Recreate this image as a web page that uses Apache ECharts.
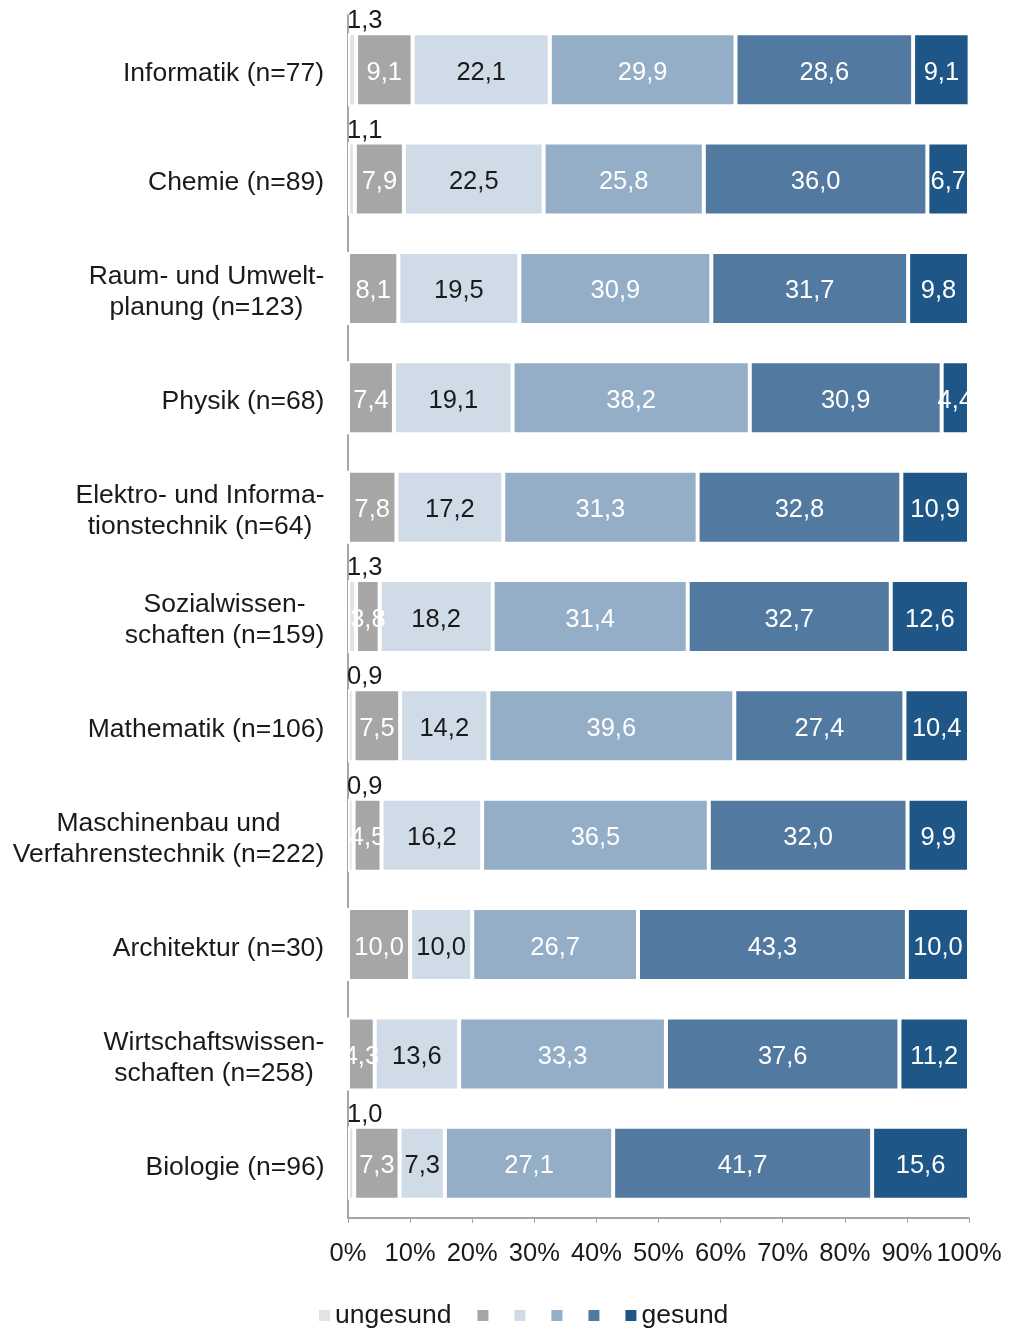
<!DOCTYPE html>
<html>
<head>
<meta charset="utf-8">
<script src="https://cdn.jsdelivr.net/npm/echarts@6/dist/echarts.min.js"></script>
<style>html,body{margin:0;padding:0;background:#fff}#c{width:1009px;height:1331px}</style>
</head>
<body>
<div id="c"></div>
<script>
const categories = [
  'Informatik (n=77)',
  'Chemie (n=89)',
  'Raum- und Umwelt-\nplanung (n=123)',
  'Physik (n=68)',
  'Elektro- und Informa-\ntionstechnik (n=64)',
  'Sozialwissen-\nschaften (n=159)',
  'Mathematik (n=106)',
  'Maschinenbau und\nVerfahrenstechnik (n=222)',
  'Architektur (n=30)',
  'Wirtschaftswissen-\nschaften (n=258)',
  'Biologie (n=96)'
];
const seriesNames = ['ungesund', 'Stufe 2', 'Stufe 3', 'Stufe 4', 'Stufe 5', 'gesund'];
const s1 = [1.3, 1.1, 0, 0, 0, 1.3, 0.9, 0.9, 0, 0, 1.0];
const s2 = [9.1, 7.9, 8.1, 7.4, 7.8, 3.8, 7.5, 4.5, 10.0, 4.3, 7.3];
const s3 = [22.1, 22.5, 19.5, 19.1, 17.2, 18.2, 14.2, 16.2, 10.0, 13.6, 7.3];
const s4 = [29.9, 25.8, 30.9, 38.2, 31.3, 31.4, 39.6, 36.5, 26.7, 33.3, 27.1];
const s5 = [28.6, 36.0, 31.7, 30.9, 32.8, 32.7, 27.4, 32.0, 43.3, 37.6, 41.7];
const s6 = [9.1, 6.7, 9.8, 4.4, 10.9, 12.6, 10.4, 9.9, 10.0, 11.2, 15.6];
const tickLabels = ['0%','10%','20%','30%','40%','50%','60%','70%','80%','90%','100%'];

const FONT = '"Liberation Sans", Arial, sans-serif';
const FS = 25.5;
const CFS = 26.5;
const colors = ['#e3e3e3', '#a6a6a6', '#d0dbe8', '#94aec8', '#527aa0', '#1e5687'];
const labelColors = ['#1a1a1a', '#ffffff', '#1a1a1a', '#ffffff', '#ffffff', '#ffffff'];
const allData = [s1, s2, s3, s4, s5, s6];

// measure label widths for centered multi-line labels
const cv = document.createElement('canvas').getContext('2d');
cv.font = CFS + 'px "Liberation Sans"';
const rich = {};
categories.forEach((c, i) => {
  const w = Math.max(...c.split('\n').map(l => cv.measureText(l).width));
  rich['c' + i] = { width: Math.ceil(w) + 1, align: 'center', fontSize: CFS, lineHeight: 31, color: '#1a1a1a', fontFamily: FONT, padding: [8, 0, 0, 0] };
});

const fmt = v => v.toFixed(1).replace('.', ',');

const series = allData.map((d, k) => ({
  name: seriesNames[k],
  type: 'bar',
  stack: 'all',
  barWidth: 73,
  data: d,
  itemStyle: { color: colors[k], borderColor: '#ffffff', borderWidth: 2 },
  label: k === 0 ? {
    show: true,
    position: [-1, 1],
    align: 'left',
    verticalAlign: 'bottom',
    color: '#1a1a1a',
    fontSize: FS,
    fontFamily: FONT,
    formatter: p => p.value > 0 ? fmt(p.value) : ''
  } : {
    show: true,
    position: 'inside',
    offset: [0, 3],
    color: labelColors[k],
    fontSize: FS,
    fontFamily: FONT,
    formatter: p => p.value > 0 ? fmt(p.value) : ''
  },
  emphasis: { disabled: true }
}));

const chart = echarts.init(document.getElementById('c'), null, { renderer: 'canvas' });
chart.setOption({
  animation: false,
  textStyle: { fontFamily: FONT },
  grid: { left: 348, right: 40, top: 15, bottom: 113, containLabel: false },
  legend: {
    data: seriesNames,
    left: 314,
    top: 1297,
    icon: 'rect',
    itemWidth: 11,
    itemHeight: 11,
    itemGap: 26,
    selectedMode: false,
    itemStyle: { borderWidth: 0, borderColor: 'transparent' },
    textStyle: { fontSize: CFS, color: '#1a1a1a', fontFamily: FONT },
    formatter: n => (n === 'ungesund' || n === 'gesund') ? n : ''
  },
  xAxis: {
    type: 'value',
    min: 0,
    max: 100,
    interval: 10,
    axisLine: { show: true, lineStyle: { color: '#a6a6a6', width: 2 } },
    axisTick: { show: true, length: 5, lineStyle: { color: '#a6a6a6', width: 1 } },
    splitLine: { show: false },
    axisLabel: {
      fontSize: FS, color: '#1a1a1a', margin: 23, fontFamily: FONT,
      formatter: v => tickLabels[Math.round(v / 10)]
    }
  },
  yAxis: {
    type: 'category',
    inverse: true,
    data: categories,
    axisLine: { show: true, lineStyle: { color: '#a6a6a6', width: 2 } },
    axisTick: { show: false },
    axisLabel: {
      margin: 23,
      align: 'right',
      fontSize: CFS,
      color: '#1a1a1a',
      fontFamily: FONT,
      lineHeight: 31,
      rich: rich,
      formatter: (v, i) => v.split('\n').map(l => '{c' + i + '|' + l + '}').join('\n')
    }
  },
  series: series
});
</script>
</body>
</html>
